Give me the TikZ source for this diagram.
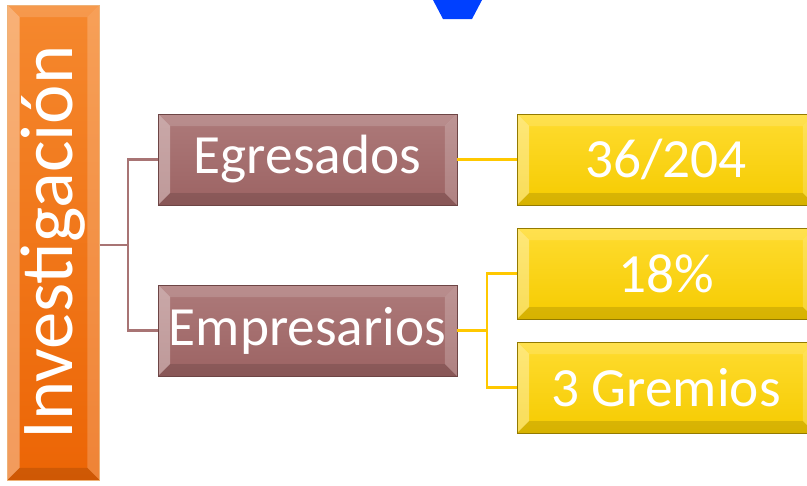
\documentclass[tikz,border=0pt]{standalone}
\usepackage{fontspec}
\setmainfont{Carlito}
\definecolor{orangeTop}{HTML}{F5882E}
\definecolor{orangeBot}{HTML}{EC6505}
\definecolor{roseTop}{HTML}{AD7A7A}
\definecolor{roseBot}{HTML}{9C6363}
\definecolor{roseLine}{HTML}{A87474}
\definecolor{goldTop}{HTML}{FFDC30}
\definecolor{goldBot}{HTML}{F5CB00}
\definecolor{goldLine}{HTML}{FFC800}
\definecolor{arrowBlue}{HTML}{0040FF}
\tikzset{
  bevel/.style={path picture={
    \coordinate (bnw) at (path picture bounding box.north west);
    \coordinate (bse) at (path picture bounding box.south east);
    \coordinate (bne) at (bnw -| bse);
    \coordinate (bsw) at (bnw |- bse);
    \fill[white,opacity=.35] (bnw) -- (bsw) -- ([shift={(#1,#1)}]bsw) -- ([shift={(#1,-#1)}]bnw) -- cycle;
    \fill[white,opacity=.15] (bnw) -- (bne) -- ([shift={(-#1,-#1)}]bne) -- ([shift={(#1,-#1)}]bnw) -- cycle;
    \fill[black,opacity=.12] (bsw) -- (bse) -- ([shift={(-#1,#1)}]bse) -- ([shift={(#1,#1)}]bsw) -- cycle;
    \fill[white,opacity=.2] (bne) -- (bse) -- ([shift={(-#1,#1)}]bse) -- ([shift={(-#1,-#1)}]bne) -- cycle;
  }}
}
\begin{document}
\begin{tikzpicture}[x=0.02cm,y=-0.02cm,
    lvlzero/.style={draw=orange!55!brown!60,top color=orangeTop,bottom color=orangeBot,
      bevel=0.24cm,minimum width=1.84cm,minimum height=9.5cm,inner sep=0pt,text=white,
      font=\fontsize{42.5}{42.5}\selectfont},
    lvlone/.style={draw=roseBot!70!black,top color=roseTop,bottom color=roseBot,
      bevel=0.24cm,minimum width=5.98cm,minimum height=1.82cm,inner sep=0pt,text=white,
      font=\fontsize{31.5}{31.5}\selectfont},
    lvltwo/.style={draw=goldBot!60!black,top color=goldTop,bottom color=goldBot,
      bevel=0.24cm,minimum width=5.96cm,minimum height=1.82cm,inner sep=0pt,text=white,
      font=\fontsize{31.5}{31.5}\selectfont},
    roselink/.style={roseLine,line width=1.4pt},
    goldlink/.style={goldLine,line width=1.4pt}]
    \clip (0,0) rectangle (807,485);
    \fill[arrowBlue] (433,0) -- (482,0) -- (472,19) -- (443,19) -- cycle;
    \node[lvlzero] (inv) at (53.5,242.5) {\rotatebox{90}{Investigación}};
    \node[lvlone] (egr) at (307.5,159.5) {Egresados};
    \node[lvlone] (emp) at (307.5,330.5) {Empresarios};
    \node[lvltwo] (n36) at (666,159.5) {36/204};
    \node[lvltwo] (p18) at (666,273.5) {18\%};
    \node[lvltwo] (grem) at (666,387.5) {3 Gremios};
    \coordinate (j1) at (128,245);
    \coordinate (j2) at (487,330.5);
    \draw[roselink] (inv.east |- j1) -- (j1);
    \draw[roselink] (egr.west) -| (j1);
    \draw[roselink] (emp.west) -| (j1);
    \draw[goldlink] (egr.east) -- (n36.west);
    \draw[goldlink] (emp.east) -- (j2);
    \draw[goldlink] (p18.west) -| (j2);
    \draw[goldlink] (grem.west) -| (j2);
\end{tikzpicture}
\end{document}
